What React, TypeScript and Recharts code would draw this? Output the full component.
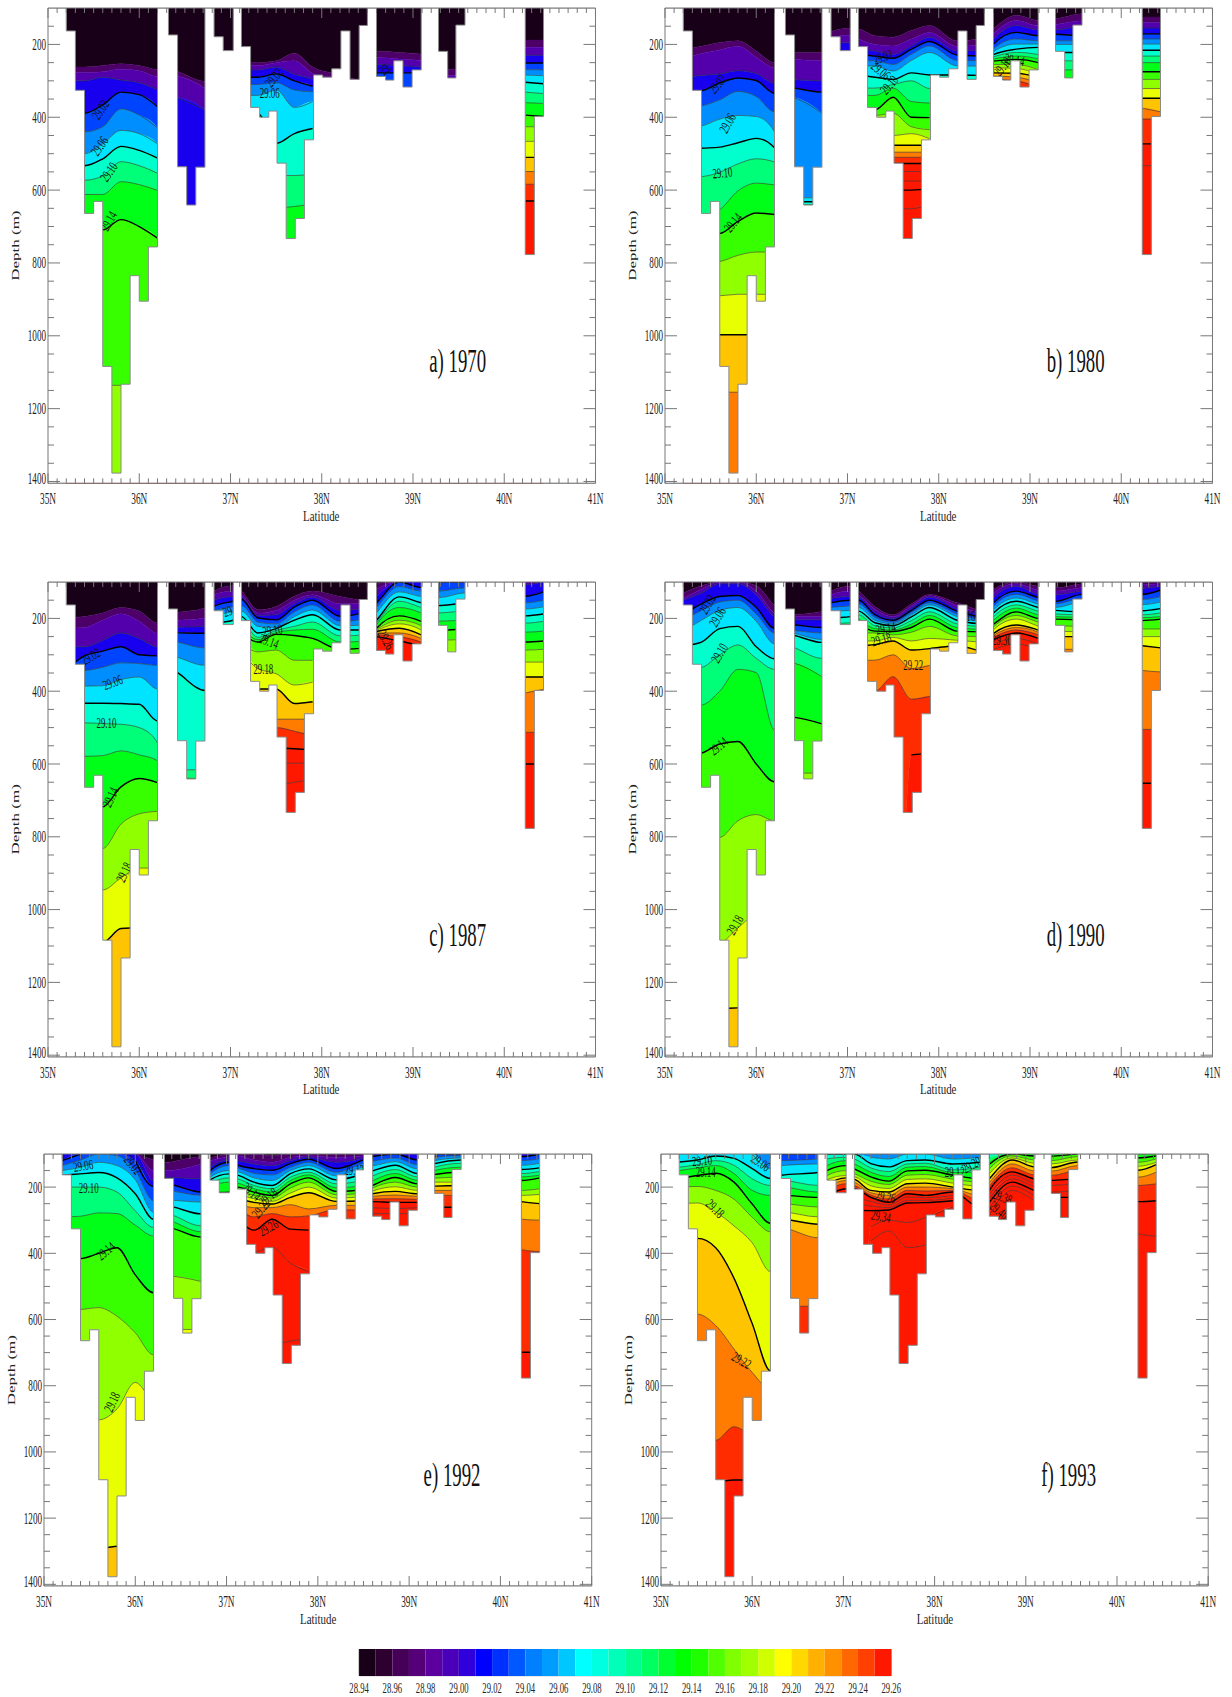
import React from "react";
import { ComposedChart, BarChart, Bar, Area, Line, XAxis, YAxis, ReferenceDot, ReferenceArea } from "recharts";

const SERIF = "'Liberation Serif', serif";
const AXIS = "#777";

const CELLS = ["#180018","#2e0030","#450058","#550078","#5c00a0","#4a00b8","#3000dc","#0000ff","#0030ff","#0058ff","#0080ff","#009cff","#00c8ff","#00ffff","#00ffe0","#00ffb8","#00ff90","#00ff60","#00ff30","#00ff00","#20ff00","#50ff00","#80ff00","#a0ff00","#d0ff00","#ffff00","#ffd800","#ffb000","#ff9000","#ff6800","#ff4000","#ff1800"];
const COLORBAR_LABELS = ["28.94","28.96","28.98","29.00","29.02","29.04","29.06","29.08","29.10","29.12","29.14","29.16","29.18","29.20","29.22","29.24","29.26"];
// isopycnal levels: 28.96, 28.98 ... 29.36
const LEVELS = [28.96,28.98,29.0,29.02,29.04,29.06,29.08,29.1,29.12,29.14,29.16,29.18,29.2,29.22,29.24,29.26,29.28,29.3,29.32,29.34,29.36];
const KNOTS = [35.2,35.4,35.6,35.8,36.0,36.2,36.32,36.72,36.82,37.03,37.12,37.3,37.5,37.7,37.9,38.2,38.5,38.6,38.85,39.09,39.28,39.57,40.23,40.43];
// sea floor: left edge of each cell and its bottom depth (100 = no water)
const FLOOR_LAT = [35,35.2,35.3,35.4,35.5,35.6,35.7,35.8,35.9,36.0,36.1,36.2,36.32,36.42,36.52,36.62,36.72,36.82,36.92,37.03,37.12,37.22,37.32,37.42,37.51,37.61,37.71,37.81,37.91,38.01,38.11,38.21,38.31,38.41,38.5,38.6,38.7,38.79,38.89,38.99,39.09,39.28,39.38,39.47,39.57,40.23,40.33,40.43,41];
const FLOOR_DEPTH = [100,163,326,664,631,1084,1377,1133,835,905,756,100,174,536,641,537,100,179,217,100,206,373,400,383,526,733,678,462,284,290,267,163,296,148,100,288,298,245,317,270,100,219,292,147,100,777,398,100,100];
const LAT_TICKS = [35,35.1,35.2,35.3,35.4,35.5,35.6,35.7,35.8,35.9,36,36.1,36.2,36.3,36.4,36.5,36.6,36.7,36.8,36.9,37,37.1,37.2,37.3,37.4,37.5,37.6,37.7,37.8,37.9,38,38.1,38.2,38.3,38.4,38.5,38.6,38.7,38.8,38.9,39,39.1,39.2,39.3,39.4,39.5,39.6,39.7,39.8,39.9,40,40.1,40.2,40.3,40.4,40.5,40.6,40.7,40.8,40.9,41];
const DEPTH_TICKS = [150,200,250,300,350,400,450,500,550,600,650,700,750,800,850,900,950,1000,1050,1100,1150,1200,1250,1300,1350,1400];

// each row: first level index present, then depth of each level from there on, one row per knot
const D1970 = [
[0,262,275,300,380,430,490,525,565,605,700,1136],[0,262,278,300,389,440,500,533,573,612,700,1136],[0,258,275,290,366,426,473,514,561,612,709,1136],[0,253,268,298,331,377,436,480,522,577,681,1136],[0,258,272,305,338,394,445,491,533,585,700,1136],[0,269,288,324,371,429,473,512,554,601,732,1136],
[0,269,285,336],[0,301,320,380],
[0,300],[0,300],
[0,245,258,270,290,310,340,390,555,640],[0,250,258,270,290,310,340,390,555,645],[0,245,250,262,281,305,325,472,560,649],[0,224,245,282,300,325,373,445,560,645],[0,262,280,295,315,330,357,431,556,638],[0,283,300],[0,300],
[0,219,236,255,278],[0,222,240,258,278],[0,227,245,262,278],
[0,270,285],[0,265,285],
[0,188,208,230,251,269,284,304,331,360,394,426,466,510,549,584,630],[0,188,208,230,251,270,286,308,335,362,398,426,466,510,549,584,630]];
const D1980 = [
[0,215,240,290,330,375,430,490,565,675,720,800,890,997,1155],[0,205,225,285,327,369,424,485,563,672,720,800,890,997,1155],[0,195,215,281,306,352,405,482,551,654,719,796,890,997,1155],[0,190,205,272,292,329,395,470,528,602,686,779,886,997,1155],[0,218,235,280,299,343,398,458,514,581,663,770,886,997,1155],[0,250,265,306,334,385,440,484,523,586,667,770,886,997,1155],
[0,222,240,296,318,343,621,632,640],[0,222,245,300,331,389,621,632,640],
[0,165,180,200,225],[0,155,175,195,225],
[0,157,185,210,227,245,259,284,320,340,380,395,450,477],[0,176,200,218,232,245,259,290,320,340,380,395,450,477,496,510,527],[0,180,204,227,238,255,273,296,310,320,345,389,450,477,496,510,527,549,575,600,651],[0,162,185,204,213,227,244,278,300,357,400,426,445,477,496,510,527,549,575,600,651],[0,148,167,180,192,204,222,284,321,361,401,434,459,477,496,510,527,549,575,596,635],[0,190,205,218,229,244,259,284,321],[0,180,200,215,232,245,260,285],
[0,157,171,185,199,212,220,228,234,240,246,255,264,278,287,296],[0,120,134,148,167,185,199,213,222,232,241,255,266,279,290,300],[0,134,148,160,176,190,199,208,228,240,250,269,280,290,305,320],
[0,130,145,160,172,190,200,222,245,270,295],[0,116,135,150,176,190,200,222,245,270,295],
[0,125,140,155,171,185,199,216,232,250,275,296,321,348,375,405,473,533],[0,125,140,155,171,185,199,216,232,250,275,296,321,348,385,405,473,533]];
const D1987 = [
[0,199,227,278,340,343,386,433,487,579,720,832,946,1090],[0,195,225,278,303,343,386,433,487,579,720,832,946,1090],[0,185,205,260,290,334,385,433,489,577,718,832,946,1090],[0,170,187,240,278,322,368,434,491,564,663,765,913,1052],[0,180,208,255,300,324,361,436,500,575,640,737,886,1050],[0,213,241,278,303,329,394,482,542,591,651,730,886,1050],
[0,190,208,225,239,262,303,340,616,638],[0,171,199,222,241,281,329,398,616,640],
[0,125,135,150,167,180,195,215,230],[0,110,125,140,153,168,182,205,225],
[0,125,135,142,148,165,180,195,210,225,240,265,292,338,394],[0,176,185,192,199,210,222,240,252,258,265,292,338,394,477,500,556,598,658],[0,167,178,190,204,215,225,228,233,239,244,287,352,394,477,500,556,598,658],[0,139,150,160,169,182,195,205,222,232,247,315,383,434,477,510,558,598,650],[0,125,135,142,150,163,177,190,210,230,255,315,375,429,477,524,561,598,642],[0,140,160,178,194,208,220,232,248,265,285],[0,150,160,170,180,200,218,232,245,262,281],
[0,105,120,140,157,170,185,205,212,218,227,230,233,236,240,245,250,270,285],[3,100,112,127,141,153,170,193,205,215,227,240,250,262],[2,100,115,125,140,157,170,185,208,220,232,245,255,265,275],
[3,100,125,143,165,185,208,232,260,295],[3,100,116,130,159,180,205,230,258,295],
[2,108,139,157,174,193,213,238,265,287,320,361,405,513,600],[2,100,127,150,168,188,208,235,262,285,320,361,395,513,600]];
const D1990 = [
[0,130,145,150,190,205,235,275,340,440,575,810,1080,1272],[0,110,120,130,160,178,205,265,335,438,570,805,1080,1272],[0,100,100,105,140,155,178,228,300,400,545,802,1090,1272],[0,100,100,105,137,150,170,222,273,340,538,756,1050,1270],[0,110,125,135,170,188,208,278,310,349,600,739,1015,1270],[0,165,185,195,227,240,270,311,340,507,649,756,1015,1270],
[0,190,195,204,216,232,238,243,275,320,470,625],[0,181,195,204,225,240,258,266,310,360,490,625],
[0,125,135,145,157,170,180,200,215],[0,112,125,140,150,165,178,195,212],
[0,125,135,142,150,160,170,180,190,200,215,240,262,275,315,400],[0,167,175,183,190,197,205,212,220,228,235,240,262,272,315,400],[0,190,195,200,205,210,215,220,226,232,236,245,252,262,300,360],[0,160,166,172,178,184,190,196,206,216,225,238,262,287,338,422,575],[0,134,138,142,150,157,163,170,182,192,202,222,255,283,329,414,570],[0,157,165,173,180,188,195,205,215,225,235,248,260,275],[0,178,184,190,196,202,208,215,222,230,237,250,265,290],
[0,120,130,143,157,167,177,185,195,205,216,223,231,241,246,252,258,270,285],[1,105,112,125,134,144,153,163,172,182,192,202,218,225,232,240,255,270],[0,112,122,133,143,152,161,170,180,190,200,210,221,232,238,245,255,270,285],
[0,116,125,135,153,160,170,178,188,195,202,220,235,250,285],[0,105,115,125,134,145,155,182,190,197,204,222,237,250,285],
[0,100,108,118,134,148,162,179,190,198,206,229,250,275,343,505,653],[0,100,105,112,122,140,155,173,185,195,202,229,250,281,347,505,653]];
const D1992 = [
[2,100,120,135,150,164,200,290,416,574,903,1293],[3,100,118,140,160,200,288,416,570,903,1290],[4,100,125,156,200,278,400,564,903,1290],[4,105,135,172,215,280,383,590,870,1285],[2,100,120,150,178,220,272,315,465,640,790,1280],[0,118,150,180,198,241,276,297,322,348,519,707,840,1280],
[0,125,150,170,190,210,239,256,280,300,320,468,630],[0,108,130,175,215,225,245,281,317,335,351,485,630],
[0,110,120,140,150,160,170,178,190,200,218],[0,100,108,118,125,135,150,160,172,185,215],
[0,100,105,120,134,142,153,164,175,188,200,210,222,235,250,265,290],[0,100,118,130,144,158,172,185,195,205,215,225,235,246,262,290,330,400],[0,105,125,135,149,163,180,195,205,215,225,233,243,251,262,280,297,383,680],[0,100,110,120,129,140,150,159,170,180,190,203,218,231,253,290,327,430,665],[0,100,105,110,116,125,135,145,155,163,172,185,200,217,266,287,330,455,660],[0,100,110,125,144,155,166,178,190,202,213,223,233,243,255,268],[0,100,105,112,118,128,140,160,178,195,208,218,228,241,255,270,285],
[3,108,122,136,151,166,181,195,203,212,220,228,236,244,262,280],[3,100,112,123,134,147,159,171,185,199,213,224,235,246,265,280],[3,118,132,145,159,169,179,190,200,210,220,228,237,246,262,280],
[3,100,110,120,129,140,150,162,173,185,197,210,225,261],[3,100,105,112,118,128,140,155,170,185,195,210,225,261],
[3,108,120,134,147,159,169,180,210,225,244,297,389,699],[3,100,114,128,142,153,164,172,205,222,250,300,395,699]];
const D1993 = [
[5,100,124,140,150,175,200,250,355,584,965,1090],[5,100,118,132,142,165,198,248,355,584,965,1090],[6,106,120,135,158,210,275,383,618,965,1090],[6,113,134,159,185,236,317,475,689,924,1085],[5,100,144,175,210,251,291,368,612,760,945,1085],[4,100,144,174,195,225,309,335,455,755,810,945,1085],
[3,100,120,135,164,180,200,225,250,275,297,324,560],[3,100,115,130,156,195,215,231,260,290,312,353,560],
[6,100,115,135,150,165,178,195,205,215,225],[6,100,110,120,135,150,165,172,180,190,205,218],
[6,100,115,130,145,159,168,176,185,195,205,230,250,270],[4,100,110,129,142,155,169,182,196,210,217,224,231,243,257,271,320,363],[4,100,115,139,153,168,182,192,204,215,225,236,246,254,262,269,300,333],[5,100,120,130,140,151,164,177,190,200,210,220,230,240,248,307,383],[5,100,118,128,138,149,162,175,188,200,212,225,232,240,247,292,375],[4,100,115,130,148,156,164,176,188,200,205,210,215,225,233,241,260],[4,100,110,125,139,155,175,185,197,210,225,240,261],
[6,100,110,120,131,145,160,175,187,198,210,222,234,246,262,285],[9,100,106,112,118,130,142,154,164,175,185,197,210],[9,106,118,128,139,151,163,175,187,198,210,225,240],
[8,100,107,120,130,141,152,165,180,195,215,231],[9,100,108,118,124,135,150,175,190,210,231],
[8,100,112,125,137,149,170,195,244,341],[8,100,106,115,125,132,155,190,241,348]];

// contour labels: latitude, depth, text, angle
const L1970: [number,number,string,number][] = [[35.58,380,"29.02",-55],[35.57,480,"29.06",-55],[35.67,551,"29.10",-55],[35.67,686,"29.14",-60],[37.48,292,"29.02",-50],[37.43,335,"29.06",0],[38.7,268,"29.",-40]];
const L1980: [number,number,string,number][] = [[35.58,310,"29.02",-50],[35.69,417,"29.06",-60],[35.63,554,"29.10",-5],[35.75,690,"29.14",-50],[37.39,236,"29.02",-20],[37.36,273,"29.06",40],[37.46,312,"29.10",-50],[38.83,244,"29.14",10],[38.7,262,"29.18",-50]];
const L1987: [number,number,string,number][] = [[35.47,306,"29.02",-30],[35.71,377,"29.06",-20],[35.64,489,"29.10",0],[35.69,692,"29.14",-65],[35.84,898,"29.18",-65],[36.97,182,"29",-20],[37.46,234,"29.10",-10],[37.42,264,"29.14",20],[37.36,340,"29.18",0],[38.7,259,"29.26",60]];
const L1990: [number,number,string,number][] = [[35.47,162,"29.02",-60],[35.58,197,"29.06",-60],[35.6,296,"29.10",-60],[35.59,552,"29.14",-40],[35.77,1043,"29.18",-60],[37.42,229,"29.14",-10],[37.37,259,"29.18",-15],[37.72,329,"29.22",0],[38.69,261,"29.30",0],[38.35,195,"16",0]];
const L1992: [number,number,string,number][] = [[35.43,137,"29.06",-10],[35.97,134,"29.02",50],[35.49,205,"29.10",0],[35.68,394,"29.14",-40],[35.75,850,"29.18",-65],[37.27,215,"29.14",40],[37.46,231,"29.18",-40],[37.38,266,"29.22",-50],[37.46,324,"29.26",-30],[38.4,150,"29.12",0]];
const L1993: [number,number,string,number][] = [[35.45,122,"29.10",-5],[36.09,127,"29.06",35],[35.49,157,"29.14",0],[35.59,266,"29.18",45],[35.88,725,"29.22",30],[37.46,231,"29.26",10],[37.41,290,"29.34",10],[38.22,156,"29.12",0],[38.41,134,"29.20",-30],[38.74,231,"29.38",20],[38.7,272,"29.40",40]];

const PANELS = [
  { table: D1970, labels: L1970, title: "a) 1970", l: 47.5, r: 595, t: 8, b: 483.3, dx: 15.8, tx: 39.49 },
  { table: D1980, labels: L1980, title: "b) 1980", l: 664.5, r: 1212, t: 8, b: 483.3, dx: 632.5, tx: 39.5 },
  { table: D1987, labels: L1987, title: "c) 1987", l: 47.5, r: 595, t: 581.8, b: 1056.8, dx: 15.8, tx: 39.49 },
  { table: D1990, labels: L1990, title: "d) 1990", l: 664.5, r: 1212, t: 581.8, b: 1056.8, dx: 632.5, tx: 39.5 },
  { table: D1992, labels: L1992, title: "e) 1992", l: 44.3, r: 592, t: 1154.2, b: 1586.2, dx: 12, tx: 39.47 },
  { table: D1993, labels: L1993, title: "f) 1993", l: 661.4, r: 1208.6, t: 1154.2, b: 1586.2, dx: 628.6, tx: 39.47 },
];

const hex = (c: string) => [1, 3, 5].map((i) => parseInt(c.slice(i, i + 2), 16));
const mix = (a: string, b: string) => {
  const x = hex(a), y = hex(b);
  return `rgb(${x.map((v, i) => Math.round((v + y[i]) / 2)).join(",")})`;
};
const bandColor = (i: number) => (i === 0 ? CELLS[0] : i <= 15 ? mix(CELLS[2 * i], CELLS[2 * i + 1]) : CELLS[31]);

const BANDS = Array.from({ length: LEVELS.length + 1 }, (_, i) => i);
const LINE_LEVELS = LEVELS.map((_, i) => i).filter((i) => i >= 2);

function buildRows(table: number[][]) {
  return KNOTS.map((lat, k) => {
    const r = table[k];
    const start = r[0];
    const has = (i: number) => i >= start && i - start + 1 < r.length;
    const d = (i: number) => (i < start ? 100 : has(i) ? r[i - start + 1] : 1405);
    const row: any = { lat };
    BANDS.forEach((i) => {
      row["b" + i] = [i === 0 ? 100 : d(i - 1), i === LEVELS.length ? 1405 : d(i)];
    });
    LINE_LEVELS.forEach((i) => {
      row["l" + i] = has(i) ? r[i - start + 1] : null;
    });
    return row;
  });
}

const FLOOR_ROWS = FLOOR_LAT.map((lat, i) => ({ lat, mask: [FLOOR_DEPTH[i], 1405] }));
const COLORBAR_ROW = [Object.fromEntries(CELLS.map((_, i) => ["c" + i, 1]))];
const COLORBAR_TICKS = COLORBAR_LABELS.map((_, i) => i * 2);

const squeezed = (x: number, y: number, text: string, size: number, sx: number, anchor: any = "middle", rot = 0, fill = "#222") => (
  <text transform={`translate(${x},${y}) rotate(${rot}) scale(${sx},1)`} fontFamily={SERIF} fontSize={size} textAnchor={anchor} dominantBaseline="central" fill={fill}>
    {text}
  </text>
);

const isMajorLat = (v: number) => Math.abs(v - Math.round(v)) < 1e-6;

const bottomTick = (p: any) => {
  const v = p.payload.value;
  const major = isMajorLat(v);
  return (
    <g>
      <line x1={p.x} x2={p.x} y1={p.y} y2={p.y - (major ? 10 : 5)} stroke={AXIS} />
      {major ? squeezed(p.x, p.y + 15, `${v}N`, 16, 0.58) : null}
    </g>
  );
};
const topTick = (p: any) => {
  const major = isMajorLat(p.payload.value);
  return <line x1={p.x} x2={p.x} y1={p.y} y2={p.y + (major ? 10 : 5)} stroke={AXIS} />;
};
const leftTick = (p: any) => {
  const v = p.payload.value;
  const major = v % 200 === 0;
  return (
    <g>
      <line x1={p.x} x2={p.x + (major ? 12 : 6)} y1={p.y} y2={p.y} stroke={AXIS} />
      {major ? squeezed(p.x - 2, p.y - (v === 1400 ? 3 : 0), `${v}`, 16, 0.57, "end") : null}
    </g>
  );
};
const rightTick = (p: any) => {
  const major = p.payload.value % 200 === 0;
  return <line x1={p.x} x2={p.x - (major ? 12 : 6)} y1={p.y} y2={p.y} stroke={AXIS} />;
};

function Panel({ panel }: { panel: (typeof PANELS)[number] }) {
  const width = panel.r - panel.l + 80;
  const height = panel.b - panel.t + 38;
  const box: React.CSSProperties = { position: "absolute", left: panel.l - 40, top: panel.t - 8, width, height };
  const rows = buildRows(panel.table);
  return (
    <>
      <div style={box}>
        <ComposedChart width={width} height={height} margin={{ left: 40, right: 40, top: 8, bottom: 30 }} data={rows}>
          <XAxis type="number" dataKey="lat" domain={[35, 41]} hide allowDataOverflow />
          <YAxis type="number" domain={[100, 1405]} reversed hide allowDataOverflow />
          {BANDS.map((i) => (
            <Area key={i} dataKey={"b" + i} type="monotone" fill={bandColor(i)} fillOpacity={1} stroke={bandColor(i)} strokeWidth={0.4} dot={false} activeDot={false} isAnimationActive={false} />
          ))}
          {LINE_LEVELS.map((i) => {
            const thick = (i - 3) % 3 === 0;
            return (
              <Line key={i} dataKey={"l" + i} type="monotone" stroke={thick ? "#000" : "#333"} strokeWidth={thick ? 1.4 : 0.6} dot={false} activeDot={false} isAnimationActive={false} />
            );
          })}
          {panel.labels.map(([lat, depth, text, angle], i) => (
            <ReferenceDot key={i} x={lat} y={depth} r={0} ifOverflow="visible" shape={(p: any) => squeezed(p.cx, p.cy, text, 14, 0.63, "middle", angle, "#111")} />
          ))}
        </ComposedChart>
      </div>
      <div style={box}>
        <ComposedChart width={width} height={height} margin={{ left: 39, right: 39, top: 7, bottom: 29 }} data={FLOOR_ROWS}>
          <Area dataKey="mask" type="stepAfter" fill="#fff" fillOpacity={1} stroke="#8a8a8a" strokeWidth={1} dot={false} activeDot={false} isAnimationActive={false} />
          <ReferenceDot x={panel.tx} y={1070} r={0} ifOverflow="visible" shape={(p: any) => squeezed(p.cx, p.cy, panel.title, 33, 0.57, "middle", 0, "#111")} />
          <XAxis type="number" dataKey="lat" domain={[35, 41]} ticks={LAT_TICKS} interval={0} height={1} tickSize={0} tickMargin={0} tick={bottomTick} stroke={AXIS} allowDataOverflow />
          <XAxis xAxisId="top" orientation="top" type="number" dataKey="lat" domain={[35, 41]} ticks={LAT_TICKS} interval={0} height={1} tickSize={0} tickMargin={0} tick={topTick} stroke={AXIS} allowDataOverflow />
          <YAxis type="number" domain={[100, 1405]} reversed ticks={DEPTH_TICKS} interval={0} width={1} tickSize={0} tickMargin={0} tick={leftTick} stroke={AXIS} allowDataOverflow />
          <YAxis yAxisId="right" orientation="right" type="number" domain={[100, 1405]} reversed ticks={DEPTH_TICKS} interval={0} width={1} tickSize={0} tickMargin={0} tick={rightTick} stroke={AXIS} allowDataOverflow />
        </ComposedChart>
      </div>
      <svg style={{ position: "absolute", left: 0, top: 0, pointerEvents: "none" }} width={1232} height={1697}>
        {squeezed((panel.l + panel.r) / 2, panel.b + 33, "Latitude", 14, 0.78)}
        {squeezed(panel.dx, (panel.t + panel.b) / 2 + 0, "Depth (m)", 10, 1.7, "middle", -90)}
      </svg>
    </>
  );
}

export default function App() {
  return (
    <div style={{ position: "absolute", left: 0, top: 0, width: 1232, height: 1697 }}>
      {PANELS.map((p, i) => (
        <Panel key={i} panel={p} />
      ))}
      <div style={{ position: "absolute", left: 339.3, top: 1649.3, width: 572.3, height: 47.7 }}>
        <BarChart width={572.3} height={47.7} layout="vertical" data={COLORBAR_ROW} margin={{ left: 20, right: 20, top: 0, bottom: 20 }} barCategoryGap={0} barGap={0}>
          <XAxis type="number" domain={[0, 32]} ticks={COLORBAR_TICKS} interval={0} height={1} tickSize={0} tickMargin={0} axisLine={false}
            tick={(p: any) => squeezed(p.x, p.y + 13.5, COLORBAR_LABELS[p.payload.value / 2], 14, 0.62)} />
          <YAxis type="category" hide />
          {CELLS.map((c, i) => (
            <Bar key={i} dataKey={"c" + i} stackId="cb" fill={c} isAnimationActive={false} />
          ))}
          <ReferenceArea x1={0} x2={32} fill="none" stroke="#888" ifOverflow="visible" />
        </BarChart>
      </div>
    </div>
  );
}
